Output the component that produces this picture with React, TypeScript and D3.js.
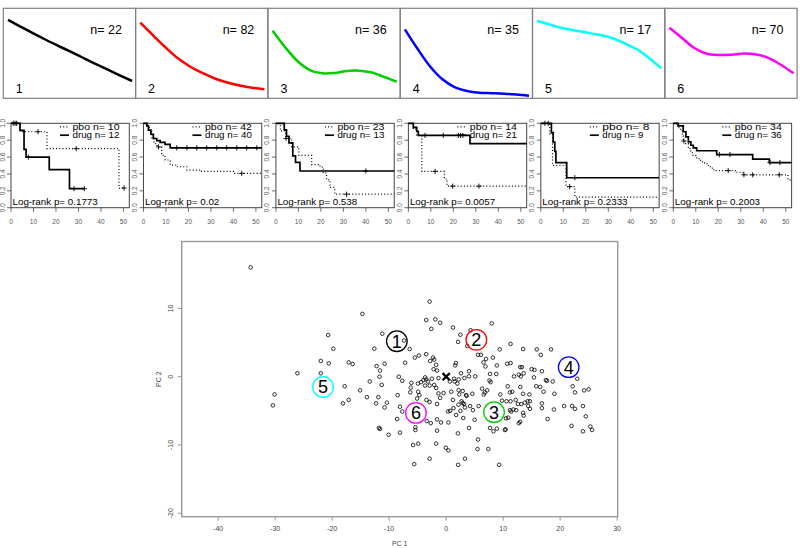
import React from 'react';
import * as d3 from 'd3';

const FONT = "'Liberation Sans', Arial, Helvetica, sans-serif";

// ---------- top row: cluster profiles ----------
const clusterLabels = ['1', '2', '3', '4', '5', '6'];
const clusterSizes = [22, 82, 36, 35, 17, 70];
const clusterColors = ['#000000', '#FF0000', '#00CD00', '#0000FF', '#00FFFF', '#FF00FF'];
const profileX = [0, 0.1, 0.2, 0.3, 0.4, 0.5, 0.6, 0.7, 0.8, 0.9, 1];
const profile1 = [0.867, 0.794, 0.72, 0.65, 0.583, 0.517, 0.45, 0.383, 0.317, 0.252, 0.189];
const profile2 = [0.837, 0.7, 0.567, 0.444, 0.35, 0.278, 0.217, 0.172, 0.139, 0.114, 0.097];
const profile3 = [0.748, 0.567, 0.411, 0.311, 0.274, 0.278, 0.3, 0.303, 0.283, 0.233, 0.181];
const profile4 = [0.763, 0.55, 0.356, 0.211, 0.122, 0.078, 0.058, 0.053, 0.047, 0.038, 0.026];
const profile5 = [0.859, 0.817, 0.778, 0.75, 0.728, 0.702, 0.667, 0.611, 0.544, 0.444, 0.33];
const profile6 = [0.781, 0.667, 0.556, 0.492, 0.478, 0.481, 0.494, 0.483, 0.444, 0.367, 0.274];
const profiles = [profile1, profile2, profile3, profile4, profile5, profile6];

// ---------- middle row: Kaplan-Meier ----------
type Step = [number, number];
const pboN = [10, 42, 23, 14, 8, 34];
const drugN = [12, 40, 13, 21, 9, 36];
const logRankP = ['0.1773', '0.02', '0.538', '0.0057', '0.2333', '0.2003'];
const kmTimeTicks = [0, 10, 20, 30, 40, 50];
const kmSurvTicks = [0, 0.2, 0.4, 0.6, 0.8, 1];
const kmTimeMax = 52.6;

const pboSteps: Step[][] = [
  [[0, 1], [4, 0.9], [16, 0.7], [48, 0.233]],
  [[0, 1], [2, 0.95], [3, 0.9], [3.7, 0.83], [4.7, 0.76], [6, 0.72], [8.1, 0.62], [9.6, 0.565], [11.9, 0.505], [14.8, 0.485], [19.3, 0.446], [25, 0.43], [40, 0.407]],
  [[0, 1], [2, 0.91], [4.3, 0.82], [7, 0.72], [10.2, 0.62], [15.9, 0.51], [19.6, 0.48], [21, 0.41], [22.5, 0.33], [24, 0.24], [26.2, 0.16]],
  [[0, 1], [2.2, 0.93], [3.7, 0.86], [6, 0.43], [16, 0.34], [17.2, 0.255]],
  [[0, 1], [4, 0.875], [5.2, 0.5], [11.2, 0.25], [15.1, 0.125]],
  [[0, 1], [1.5, 0.97], [2.5, 0.94], [3.3, 0.91], [4, 0.85], [4.4, 0.79], [5.5, 0.76], [6.7, 0.7], [7.4, 0.67], [8.5, 0.62], [10, 0.59], [11.5, 0.56], [13, 0.53], [15, 0.5], [16.5, 0.47], [18, 0.44], [28, 0.42], [31, 0.39], [51, 0.33]],
];
const pboEnd = [50.3, 52.6, 52.6, 52.6, 52.6, 52.6];
const pboCensor: number[][] = [
  [1, 2.5, 12, 29, 50.3],
  [6.7, 43.7],
  [4.5, 31.4],
  [11.9, 19.7, 31.4],
  [1.8, 3.3, 12.8],
  [4.7, 24.4, 31.4, 35.3, 47.1],
];
const drugSteps: Step[][] = [
  [[0, 1], [4, 0.917], [5.8, 0.69], [6.7, 0.6], [17, 0.45], [26, 0.225]],
  [[0, 1], [1.5, 0.97], [2.2, 0.92], [3.3, 0.87], [4.4, 0.82], [5.9, 0.795], [7.4, 0.775], [9.6, 0.75], [11.9, 0.71]],
  [[0, 1], [3.7, 0.923], [4.7, 0.846], [5.8, 0.769], [7.5, 0.615], [8.7, 0.538], [10.7, 0.435]],
  [[0, 1], [2.2, 0.952], [3.7, 0.905], [4.4, 0.857], [27.4, 0.76]],
  [[0, 1], [4.7, 0.889], [5.5, 0.778], [6.2, 0.667], [6.7, 0.533], [11.5, 0.355]],
  [[0, 1], [2.2, 0.97], [4.4, 0.9], [5.6, 0.84], [6.7, 0.78], [7.8, 0.74], [8.9, 0.71], [10.4, 0.675], [19.3, 0.63], [35.3, 0.575], [42.7, 0.535]],
];
const drugEnd = [32.6, 52.6, 52.6, 52.6, 52.6, 52.6];
const drugCensor: number[][] = [
  [1.8, 7.7, 28, 32.6],
  [14.8, 19.3, 23.7, 28.1, 32.6, 37, 41.5, 45.9, 50.4],
  [40],
  [7.4, 15.5, 22.2, 23.2, 24.2],
  [15.1],
  [20.5, 25.2, 43, 47.4],
];

// ---------- bottom: PCA scatter ----------
const pcScores: [number, number][] = [
  [-2.9, 11.0], [-14.7, 9.2], [-3.5, 8.3], [-1.9, 8.4], [-1.05, 7.9], [-2.6, 7.0], [-20.7, 6.1], [-11.2, 6.3], [-7.4, 5.3],
  [-19.8, 4.1], [-12.6, 4.1], [-6.4, 4.05], [-22.0, 2.3], [-20.6, 1.95], [-17.1, 2.1], [-16.4, 1.85], [-4.8, 3.1], [-5.5, 2.8],
  [-3.5, 3.3], [-2.3, 2.8], [-2.1, 2.5], [-2.8, 2.3], [-1.75, 1.75], [-2.2, 1.1], [-1.6, 0.9], [-7.2, 2.05], [-10.8, 1.9],
  [-12.2, 1.55], [-11.6, 0.9], [-26.1, 0.5], [-22.0, 0.5], [-11.7, 0.0], [-13.4, -0.7], [-11.3, -1.2], [-8.3, 0.0], [-7.7, -0.6],
  [-6.1, -0.9], [-4.95, -1.0], [-4.4, -0.8], [-4.0, -0.5], [-3.7, -0.1], [-3.5, -0.4], [-3.2, -0.7], [-2.5, -0.3], [-1.35, -0.2],
  [-17.8, -1.4], [-15.1, -2.0], [-13.9, -3.0], [-11.9, -3.0], [-17.1, -3.4], [-18.1, -3.9], [-12.3, -3.9], [-10.4, -3.8], [-10.8, -4.5],
  [-8.5, -2.7], [-6.2, -1.6], [-6.3, -2.3], [-4.9, -2.2], [-5.1, -3.2], [-4.7, -2.7], [-3.7, -1.3], [-2.9, -1.3], [-2.1, -1.2],
  [-1.75, -1.65], [-1.35, -2.45], [-1.05, -3.1], [-3.45, -3.4], [-2.9, -3.7], [-1.6, -4.0], [-8.1, -4.4], [-7.7, -5.1], [-8.6, -6.2],
  [-11.8, -7.5], [-11.6, -7.65], [-10.1, -8.5], [-8.1, -8.2], [-5.4, -7.4], [-5.4, -7.8], [-3.4, -6.5], [-2.7, -6.8], [-1.6, -6.25],
  [-1.6, -7.9], [-5.8, -10.0], [-4.9, -9.8], [-1.75, -9.8], [-2.9, -12.0], [-5.6, -12.8],
  [8.0, 7.8], [1.2, 7.2], [4.3, 6.8], [2.5, 6.15], [2.1, 5.1], [3.7, 4.5], [9.4, 4.0], [11.3, 4.8], [13.5, 4.05], [15.9, 4.0],
  [18.4, 4.0], [16.6, 3.2], [5.6, 3.2], [6.1, 3.2], [7.0, 2.6], [8.2, 2.8], [1.7, 2.0], [1.6, 1.65], [6.55, 2.1], [6.9, 1.5],
  [8.9, 1.65], [10.7, 1.9], [11.3, 2.0], [13.0, 1.4], [13.3, 1.4], [15.0, 1.1], [15.5, 1.0], [16.8, 0.8], [4.0, 0.8], [2.6, 0.5],
  [5.1, 0.05], [7.7, 0.4], [8.8, 0.4], [11.9, 0.05], [12.75, 0.3], [13.1, 0.05], [13.6, 0.5], [15.4, -0.1], [17.5, -0.5], [17.7, -0.6],
  [18.7, -0.7], [1.4, -0.3], [1.5, -0.7], [1.97, -1.0], [2.2, -0.4], [3.2, -0.2], [4.0, 0.05], [0.65, -0.7], [7.8, -0.8], [7.6, -0.55],
  [10.8, -1.4], [13.0, -1.5], [15.8, -1.4], [16.5, -1.5], [17.1, -2.2], [19.0, -2.5], [22.2, -1.4], [22.6, -2.3], [24.2, -2.0], [25.0, -1.85],
  [23.0, -0.3], [11.2, -2.3], [11.6, -2.2], [9.5, -2.6], [13.5, -2.5], [14.6, -2.6], [6.3, -1.75], [6.8, -2.3], [6.6, -2.6], [7.2, -2.0],
  [4.6, -2.5], [3.5, -2.7], [3.6, -2.8], [2.3, -2.6], [2.9, -2.1], [2.2, -1.97], [0.9, -2.2], [-0.46, -2.4], [2.9, -3.85], [3.15, -4.0],
  [4.2, -4.3], [4.7, -4.9], [5.7, -4.3], [9.8, -3.5], [10.6, -3.6], [11.3, -3.6], [12.2, -3.4], [12.6, -4.0], [13.2, -4.0], [13.8, -3.8],
  [14.3, -3.6], [14.7, -3.6], [11.2, -4.9], [11.8, -4.8], [12.3, -4.9], [14.7, -4.7], [14.4, -4.3], [16.8, -3.9], [16.8, -4.6], [18.9, -4.8],
  [20.7, -4.3], [22.1, -4.3], [22.6, -4.7], [24.0, -4.3], [24.5, -5.8], [17.8, -6.2], [13.5, -5.3], [13.6, -5.7], [13.0, -6.6], [12.75, -6.8],
  [11.4, -5.1], [10.9, -6.0], [10.5, -6.1], [22.0, -7.2], [24.0, -8.0], [25.3, -7.3], [25.6, -7.8], [10.3, -7.8], [10.45, -7.7], [7.7, -7.5],
  [8.3, -8.0], [8.9, -7.6], [5.6, -9.2], [5.5, -10.6], [7.4, -10.6], [-0.05, -10.4], [0.4, -10.8], [3.3, -12.0], [2.1, -12.9], [9.3, -12.9],
  [2.05, -8.3], [0.4, -6.7], [-0.9, -6.7], [4.0, -7.5], [5.0, -6.3], [3.0, -6.05], [1.75, -5.6], [0.7, -5.0], [2.5, -5.0], [1.3, -4.6],
  [2.15, -4.1], [3.3, -4.5], [2.7, -3.6], [1.2, -3.4], [0.35, -5.1],
  [-34.3, 16.0], [-30.1, -2.6], [-30.4, -4.2],
];
const clusterCentrePC1 = [-8.65, 5.3, 8.4, 21.5, -21.6, -5.3];
const clusterCentrePC2 = [5.2, 5.4, -5.2, 1.4, -1.5, -5.3];
const overallCentre: [number, number] = [0, 0];
const pc1Ticks = [-40, -30, -20, -10, 0, 10, 20, 30];
const pc2Ticks = [-20, -10, 0, 10];

function survAt(steps: Step[], t: number) {
  let s = steps[0][1];
  for (const st of steps) if (st[0] <= t) s = st[1];
  return s;
}

function TopPanels() {
  const x0 = 3.3, w = 132.3, yTop = 8.3, yBot = 98.3;
  return (
    <g>
      {profiles.map((vals, i) => {
        const left = x0 + w * i, right = left + w;
        const xs = d3.scaleLinear().domain([0, 1]).range([left + 4.7, right - 3.5]);
        const ys = d3.scaleLinear().domain([0, 1]).range([98, 8]);
        const pts = profileX.map((t, k) => [t, vals[k]] as [number, number]);
        const line = d3.line<[number, number]>().x(d => xs(d[0])).y(d => ys(d[1])).curve(d3.curveCatmullRom);
        return (
          <g key={i}>
            <rect x={left} y={yTop} width={w} height={yBot - yTop} fill="none" stroke="#808080" strokeWidth={1.2} />
            <path d={line(pts) || ''} fill="none" stroke={clusterColors[i]} strokeWidth={2.5} />
            <text x={right - 13.6} y={33.5} textAnchor="end" fontSize={12.5} fill="#000">{`n= ${clusterSizes[i]}`}</text>
            <text x={left + 12.5} y={93.3} fontSize={12.5} fill="#000">{clusterLabels[i]}</text>
          </g>
        );
      })}
    </g>
  );
}

function KMPanels() {
  const yTop = 123.3, yBot = 207.7, w = 118.3;
  const y = d3.scaleLinear().domain([0, 1]).range([yBot, yTop]);
  return (
    <g>
      {pboN.map((_, i) => {
        const left = 11 + 132.46 * i, right = left + w;
        const x = d3.scaleLinear().domain([0, kmTimeMax]).range([left, right]);
        const line = d3.line<Step>().x(d => x(d[0])).y(d => y(d[1])).curve(d3.curveStepAfter);
        const withEnd = (steps: Step[], end: number): Step[] => [...steps, [end, steps[steps.length - 1][1]]];
        const cross = (t: number, steps: Step[], k: string) => {
          const cx = x(t), cy = y(survAt(steps, t));
          return <path key={k} d={`M${cx - 2.6},${cy}H${cx + 2.6}M${cx},${cy - 2.6}V${cy + 2.6}`} stroke="#000" strokeWidth={0.9} fill="none" />;
        };
        return (
          <g key={i}>
            <rect x={left} y={yTop} width={w} height={yBot - yTop} fill="none" stroke="#444" strokeWidth={1} />
            {kmTimeTicks.map(t => (
              <g key={'xt' + t}>
                <line x1={x(t)} x2={x(t)} y1={yBot} y2={yBot + 4} stroke="#444" strokeWidth={0.8} />
                <text x={x(t)} y={224.3} fontSize={6.5} textAnchor="middle" fill="#555">{t}</text>
              </g>
            ))}
            {kmSurvTicks.map(s => (
              <g key={'yt' + s}>
                <line x1={left - 4} x2={left} y1={y(s)} y2={y(s)} stroke="#444" strokeWidth={0.8} />
                <text transform={`translate(${left - 6.5},${y(s)}) rotate(-90)`} fontSize={6.5} textAnchor="middle" fill="#555">{s.toFixed(1)}</text>
              </g>
            ))}
            <path d={line(withEnd(pboSteps[i], pboEnd[i])) || ''} fill="none" stroke="#000" strokeWidth={1.2} strokeDasharray="1 2.2" />
            <path d={line(withEnd(drugSteps[i], drugEnd[i])) || ''} fill="none" stroke="#000" strokeWidth={1.7} />
            {pboCensor[i].map((t, k) => cross(t, pboSteps[i], 'pc' + k))}
            {drugCensor[i].map((t, k) => cross(t, drugSteps[i], 'dc' + k))}
            <line x1={left + 49} x2={left + 58} y1={126.9} y2={126.9} stroke="#000" strokeWidth={1.2} strokeDasharray="1 2.2" />
            <line x1={left + 49} x2={left + 58} y1={135.2} y2={135.2} stroke="#000" strokeWidth={1.7} />
            <text x={left + 61.5} y={129.9} fontSize={9} fill="#000" textLength={47} lengthAdjust="spacingAndGlyphs">{`pbo n= ${pboN[i]}`}</text>
            <text x={left + 61.5} y={138.3} fontSize={9} fill="#000" textLength={drugN[i] < 10 ? 41 : 47} lengthAdjust="spacingAndGlyphs">{`drug n= ${drugN[i]}`}</text>
            <text x={left + 1.5} y={205} fontSize={9.8} fill="#000">{`Log-rank p= ${logRankP[i]}`}</text>
          </g>
        );
      })}
    </g>
  );
}

function Scatter() {
  const L = 181.7, R = 617.7, T = 241.5, B = 516.7;
  const x = d3.scaleLinear().domain([-46.4, 30.1]).range([L, R]);
  const y = d3.scaleLinear().domain([-20.5, 19.8]).range([B, T]);
  const cx0 = x(overallCentre[0]), cy0 = y(overallCentre[1]);
  return (
    <g>
      <rect x={L} y={T} width={R - L} height={B - T} fill="none" stroke="#999" strokeWidth={1.4} />
      {pc1Ticks.map(t => (
        <g key={'x' + t}>
          <line x1={x(t)} x2={x(t)} y1={B} y2={B + 4} stroke="#999" strokeWidth={1} />
          <text x={x(t)} y={531} fontSize={7} textAnchor="middle" fill="#444">{t}</text>
        </g>
      ))}
      {pc2Ticks.map(t => (
        <g key={'y' + t}>
          <line x1={L - 4} x2={L} y1={y(t)} y2={y(t)} stroke="#999" strokeWidth={1} />
          <text transform={`translate(${172.5},${y(t)}) rotate(-90)`} fontSize={7} textAnchor="middle" fill="#444">{t}</text>
        </g>
      ))}
      <text x={(L + R) / 2} y={546} fontSize={7} textAnchor="middle" fill="#444">PC 1</text>
      <text transform={`translate(${161},${(T + B) / 2}) rotate(-90)`} fontSize={7} textAnchor="middle" fill="#444">PC 2</text>
      {pcScores.map((d, k) => (
        <circle key={k} cx={x(d[0])} cy={y(d[1])} r={1.8} fill="none" stroke="#000" strokeWidth={0.8} />
      ))}
      <path d={`M${cx0 - 3.6},${cy0 - 3.6}L${cx0 + 3.6},${cy0 + 3.6}M${cx0 - 3.6},${cy0 + 3.6}L${cx0 + 3.6},${cy0 - 3.6}`} stroke="#000" strokeWidth={2.3} />
      {clusterLabels.map((lab, i) => (
        <g key={'c' + i}>
          <circle cx={x(clusterCentrePC1[i])} cy={y(clusterCentrePC2[i])} r={10.3} fill="none" stroke={clusterColors[i]} strokeWidth={1.3} />
          <text x={x(clusterCentrePC1[i])} y={y(clusterCentrePC2[i]) + 6.5} fontSize={18} textAnchor="middle" fill="#000">{lab}</text>
        </g>
      ))}
    </g>
  );
}

export default function App() {
  return (
    <svg width={800} height={548} style={{ position: 'absolute', left: 0, top: 0, background: '#fff' }} fontFamily={FONT}>
      <rect x={0} y={0} width={800} height={548} fill="#fff" />
      <TopPanels />
      <KMPanels />
      <Scatter />
    </svg>
  );
}
